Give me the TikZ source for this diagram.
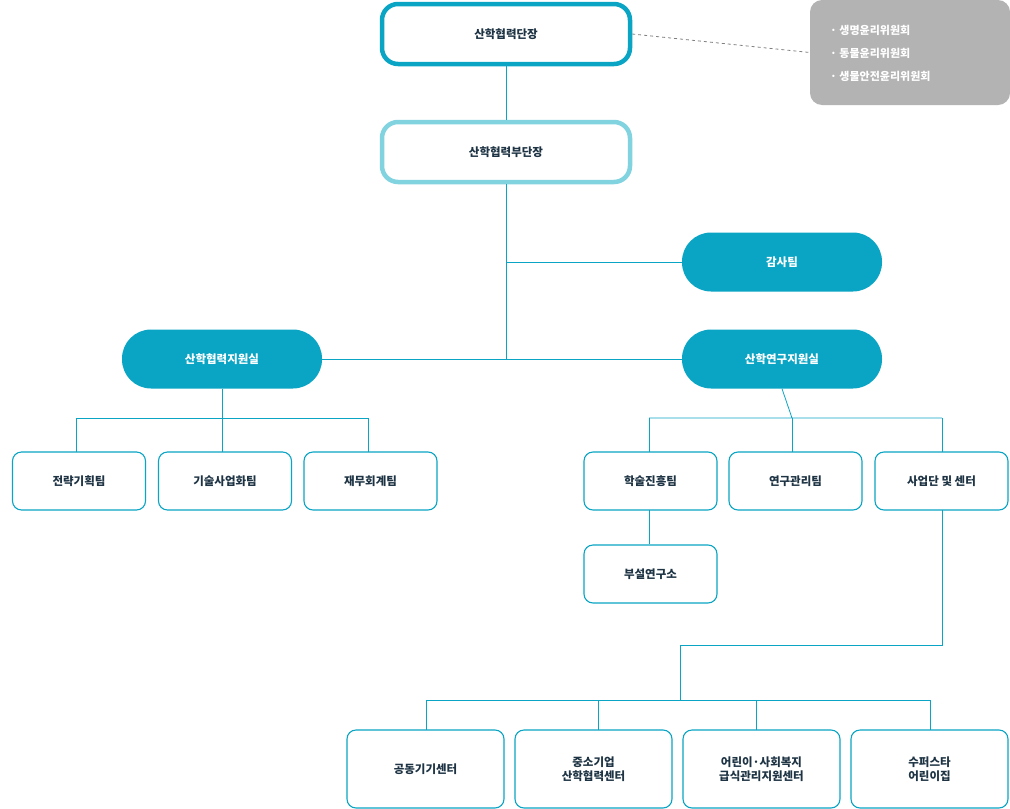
\documentclass[tikz,border=0pt]{standalone}
\usepackage{fontspec}
\setmainfont{Noto Sans CJK KR}
\definecolor{cy}{HTML}{0AA5C4}
\definecolor{lcy}{HTML}{82D3E0}
\definecolor{txt}{HTML}{1E3444}
\definecolor{gr}{HTML}{B3B3B3}
\begin{document}
\begin{tikzpicture}[x=1pt,y=-1pt,
  every node/.style={font=\fontsize{11.5}{14}\selectfont\bfseries, text=txt, align=center, inner sep=0pt},
  head/.style={draw=cy, line width=4.5pt, fill=white, rounded corners=16pt, minimum width=248pt, minimum height=60pt},
  vice/.style={head, draw=lcy},
  pill/.style={fill=cy, text=white, rounded corners=29pt, minimum width=200pt, minimum height=59pt},
  team/.style={draw=cy, line width=1.1pt, fill=white, rounded corners=9pt, minimum width=133pt, minimum height=58pt},
  cen/.style={team, minimum width=157pt, minimum height=78pt},
  ln/.style={draw=cy, line width=0.8pt}]
\useasboundingbox (0,0) rectangle (1010,809);
\node[head] (h) at (506,34) {산학협력단장};
\node[fill=gr, rounded corners=12pt, minimum width=200pt, minimum height=105pt] (g) at (910,52.5) {};
\node[text=white, align=left, anchor=west, font=\fontsize{11}{23}\selectfont\bfseries] (gt) at (830,53) {·\ 생명윤리위원회\\·\ 동물윤리위원회\\·\ 생물안전윤리위원회};
\draw[gray, dashed, line width=0.8pt] (h.east) -- (g.west);
\node[vice] (v) at (506,152) {산학협력부단장};
\draw[ln] (h) -- (v);
\node[pill] (a) at (782,262) {감사팀};
\node[pill] (l) at (222,359) {산학협력지원실};
\node[pill] (r) at (782,359) {산학연구지원실};
\coordinate (j) at (506,360);
\draw[ln] (v.south) -- (j);
\draw[ln] (506,262) -- (a.west);
\draw[ln] (l.east) -- (r.west);
\node[team] (l1) at (79,481) {전략기획팀};
\node[team] (l2) at (225,481) {기술사업화팀};
\node[team] (l3) at (370.5,481) {재무회계팀};
\draw[ln] (l.south) -- (222,418) (76,418) -- (368,418);
\draw[ln] (76,418) -- (76,452) (222,418) -- (222,452) (368,418) -- (368,452);
\node[team] (r1) at (650.5,481) {학술진흥팀};
\node[team] (r2) at (795.5,481) {연구관리팀};
\node[team] (r3) at (941.5,481) {사업단 및 센터};
\draw[ln] (r.south) -- (792,418) (649,418) -- (942,418);
\draw[ln] (649,418) -- (649,452) (792,418) -- (792,452) (942,418) -- (942,452);
\node[team] (b) at (650.5,574) {부설연구소};
\draw[ln] (649,510) -- (b.north-|649,0);
\node[cen] (c1) at (425.5,769) {공동기기센터};
\node[cen] (c2) at (593.5,769) {중소기업\\산학협력센터};
\node[cen] (c3) at (761.5,769) {어린이·사회복지\\급식관리지원센터};
\node[cen] (c4) at (929.5,769) {수퍼스타\\어린이집};
\draw[ln] (942,510) -- (942,645) -- (680,645) -- (680,700);
\draw[ln] (426,700) -- (930,700);
\draw[ln] (426,700) -- (426,730) (598,700) -- (598,730) (756,700) -- (756,730) (930,700) -- (930,730);
\end{tikzpicture}
\end{document}
